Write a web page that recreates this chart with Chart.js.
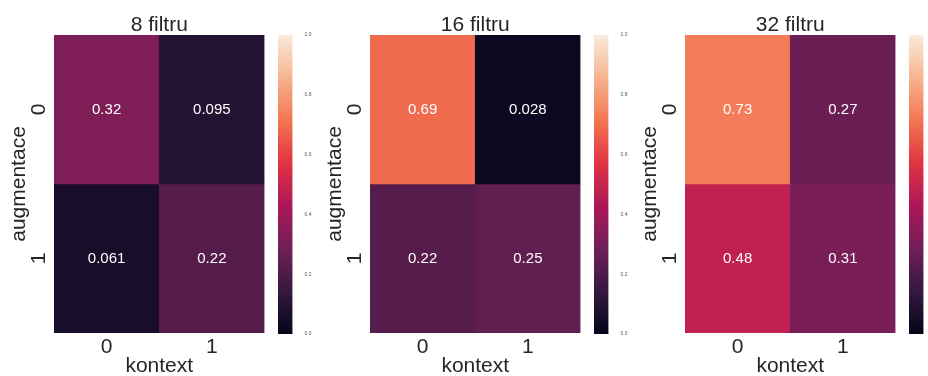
<!DOCTYPE html>
<html>
<head>
<meta charset="utf-8">
<script src="https://cdn.jsdelivr.net/npm/chart.js@4.4.0/dist/chart.umd.min.js"></script>
<style>
  body { margin: 0; width: 928px; height: 376px; overflow: hidden; background: #fff; position: relative; }
  canvas { position: absolute; top: 0; }
</style>
</head>
<body>
<script>
// data
const titles = ['8 filtru', '16 filtru', '32 filtru'];
const rowLabels = ['0', '1'];   // augmentace
const colLabels = ['0', '1'];   // kontext
const values8 = [[0.32, 0.095], [0.061, 0.22]];
const values16 = [[0.69, 0.028], [0.22, 0.25]];
const values32 = [[0.73, 0.27], [0.48, 0.31]];
const cbarTicks = [0, 0.2, 0.4, 0.6, 0.8, 1.0];
const xTitle = 'kontext';
const yTitle = 'augmentace';

// seaborn "rocket" colormap, position -> colour
const rocketPos = [0, 1/7, 2/7, 3/7, 4/7, 5/7, 6/7, 1];
const rocketHex = ['#03051a', '#35193e', '#701f57', '#ad1759', '#e13342', '#f37651', '#f6b48f', '#faebdd'];

const FONT = "'Liberation Sans', Arial, sans-serif";
const TEXT = '#262626';
Chart.defaults.font.family = FONT;

function hexToRgb(h) {
    return [parseInt(h.substr(1, 2), 16), parseInt(h.substr(3, 2), 16), parseInt(h.substr(5, 2), 16)];
}
function rocket(v) {
    v = Math.max(0, Math.min(1, v));
    let i = 0;
    while (i < rocketPos.length - 2 && v > rocketPos[i + 1]) i++;
    const t = (v - rocketPos[i]) / (rocketPos[i + 1] - rocketPos[i]);
    const a = hexToRgb(rocketHex[i]), b = hexToRgb(rocketHex[i + 1]);
    const c = a.map((x, k) => Math.round(x + (b[k] - x) * t));
    return 'rgb(' + c.join(',') + ')';
}

function addCanvas(left, w) {
    const cv = document.createElement('canvas');
    cv.width = w;
    cv.height = 376;
    cv.style.left = left + 'px';
    document.body.appendChild(cv);
    return cv.getContext('2d');
}

function heatmap(left, title, values) {
    const annotate = {
        id: 'annotate',
        afterDatasetsDraw(chart) {
            const ctx = chart.ctx;
            ctx.save();
            ctx.fillStyle = '#ffffff';
            ctx.font = '15px ' + FONT;
            ctx.textAlign = 'center';
            ctx.textBaseline = 'middle';
            chart.data.datasets.forEach((ds, r) => {
                chart.getDatasetMeta(r).data.forEach((bar, c) => {
                    ctx.fillText(String(values[r][c]), bar.x, (bar.y + bar.base) / 2);
                });
            });
            ctx.restore();
        }
    };

    new Chart(addCanvas(left, 270), {
        type: 'bar',
        data: {
            labels: colLabels,
            datasets: rowLabels.map((row, r) => ({
                data: colLabels.map(() => [r, r + 1]),
                backgroundColor: values[r].map(rocket),
                borderWidth: 0,
                grouped: false,
                barPercentage: 1,
                categoryPercentage: 1
            }))
        },
        options: {
            responsive: false,
            animation: false,
            layout: { padding: { right: 5.5 } },
            plugins: {
                legend: { display: false },
                tooltip: { enabled: false },
                title: {
                    display: true,
                    text: title,
                    fullSize: false,
                    color: TEXT,
                    font: { size: 21, weight: 'normal', lineHeight: 0.95 },
                    padding: { top: 15, bottom: 0 }
                }
            },
            scales: {
                x: {
                    grid: { display: false },
                    border: { display: false },
                    ticks: { color: TEXT, font: { size: 21 }, padding: -6 },
                    title: { display: true, text: xTitle, color: TEXT, font: { size: 21, lineHeight: 0.9 }, padding: 0 },
                    afterFit: (s) => { s.height = 43; }
                },
                y: {
                    min: 0,
                    max: rowLabels.length,
                    reverse: true,
                    grid: { display: false },
                    border: { display: false },
                    afterBuildTicks: (s) => { s.ticks = rowLabels.map((l, i) => ({ value: i + 0.5 })); },
                    ticks: {
                        color: TEXT,
                        font: { size: 21 },
                        padding: 1,
                        crossAlign: 'center',
                        minRotation: 90,
                        maxRotation: 90,
                        callback: (v) => rowLabels[Math.floor(v)]
                    },
                    title: { display: true, text: yTitle, color: TEXT, font: { size: 21, lineHeight: 0.9 }, padding: { top: 10, bottom: 0 } },
                    afterFit: (s) => { s.width = 54; }
                }
            }
        },
        plugins: [annotate]
    });
}

function colorbar(left) {
    new Chart(addCanvas(left, 50), {
        type: 'bar',
        data: {
            labels: [''],
            datasets: [{
                data: [[cbarTicks[0], cbarTicks[cbarTicks.length - 1]]],
                backgroundColor: (c) => {
                    const a = c.chart.chartArea;
                    if (!a) return '#000';
                    const g = c.chart.ctx.createLinearGradient(0, a.bottom, 0, a.top);
                    rocketPos.forEach((p, i) => g.addColorStop(p, rocketHex[i]));
                    return g;
                },
                borderWidth: 0,
                barPercentage: 1,
                categoryPercentage: 1
            }]
        },
        options: {
            responsive: false,
            animation: false,
            layout: { padding: { left: 8, top: 35, bottom: 42 } },
            plugins: { legend: { display: false }, tooltip: { enabled: false } },
            scales: {
                x: { display: false },
                y: {
                    position: 'right',
                    min: 0,
                    max: 1,
                    grid: { display: false },
                    border: { display: false },
                    afterBuildTicks: (s) => { s.ticks = cbarTicks.map((v) => ({ value: v })); },
                    ticks: { color: '#555', font: { size: 5 }, padding: 4, callback: (v) => v.toFixed(1) },
                    afterFit: (s) => { s.width = 27.5; }
                }
            }
        }
    });
}

const panels = [values8, values16, values32];
panels.forEach((vals, i) => {
    const off = [0, 316, 631][i];
    heatmap(off, titles[i], vals);
    colorbar(off + 270);
});
</script>
</body>
</html>
